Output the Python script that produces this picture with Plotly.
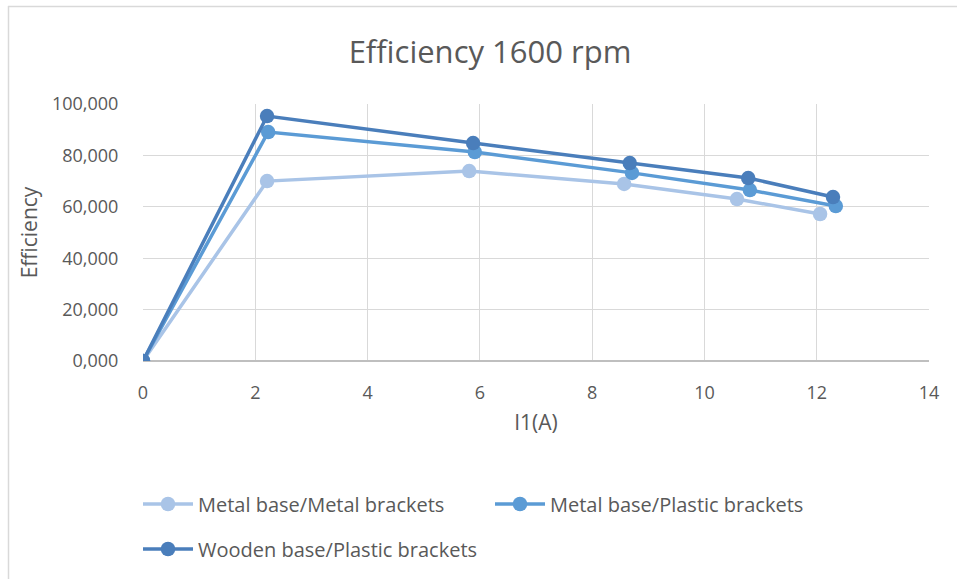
import plotly.graph_objects as go

# Current I1 (A) and efficiency values for each build configuration
metal_metal_x = [0, 2.21, 5.81, 8.57, 10.58, 12.06]
metal_metal_y = [0, 70.0, 73.9, 68.9, 63.0, 57.2]

metal_plastic_x = [0, 2.23, 5.91, 8.71, 10.81, 12.34]
metal_plastic_y = [0, 89.1, 81.3, 73.2, 66.5, 60.3]

wooden_plastic_x = [0, 2.21, 5.88, 8.67, 10.78, 12.29]
wooden_plastic_y = [0, 95.3, 84.8, 77.0, 71.2, 63.8]

series_names = ["Metal base/Metal brackets", "Metal base/Plastic brackets",
                "Wooden base/Plastic brackets"]
series_colors = ["#a9c4e7", "#5b9bd5", "#4a7ebb"]
series_legends = ["legend", "legend", "legend2"]

y_ticks = [0, 20, 40, 60, 80, 100]
y_tick_labels = ["0,000", "20,000", "40,000", "60,000", "80,000", "100,000"]
x_ticks = [0, 2, 4, 6, 8, 10, 12, 14]

FONT = "Open Sans, Liberation Sans, sans-serif"
GREY = "#595959"

fig = go.Figure()
for name, xs, ys, col, lg in zip(series_names,
                                 [metal_metal_x, metal_plastic_x, wooden_plastic_x],
                                 [metal_metal_y, metal_plastic_y, wooden_plastic_y],
                                 series_colors, series_legends):
    fig.add_trace(go.Scatter(x=xs, y=ys, name=name, mode="lines+markers",
                             line=dict(color=col, width=3.5),
                             marker=dict(color=col, size=14.5),
                             legend=lg))

W, H = 957, 579
L, R, T, B = 143, 28, 104, 218
pw, ph = W - L - R, H - T - B


def px_x(p):
    return (p - L) / pw


def px_y(p):
    return (H - B - p) / ph


# Outer chart frame (top and left edges)
fig.add_shape(type="line", xref="paper", yref="paper",
              x0=px_x(8), x1=px_x(W + 5), y0=px_y(6.5), y1=px_y(6.5),
              line=dict(color="#d9d9d9", width=1.5))
fig.add_shape(type="line", xref="paper", yref="paper",
              x0=px_x(8.5), x1=px_x(8.5), y0=px_y(6), y1=px_y(H + 5),
              line=dict(color="#d9d9d9", width=1.5))

legend_font = dict(size=20, color=GREY, family=FONT)

fig.update_layout(
    width=W, height=H,
    margin=dict(l=L, r=R, t=T, b=B, autoexpand=False),
    paper_bgcolor="white", plot_bgcolor="white",
    font=dict(family=FONT, color=GREY, size=18),
    title=dict(text="Efficiency 1600 rpm", x=490 / W, xanchor="center",
               y=1 - 52 / H, yanchor="middle",
               font=dict(size=31, color=GREY, family=FONT)),
    showlegend=True,
    legend=dict(orientation="h", x=px_x(138), xanchor="left",
                y=px_y(504), yanchor="middle",
                entrywidth=287, entrywidthmode="pixels",
                font=legend_font, itemwidth=50),
    legend2=dict(orientation="h", x=px_x(138), xanchor="left",
                 y=px_y(549), yanchor="middle",
                 font=legend_font, itemwidth=50),
    xaxis=dict(range=[0, 14], tickvals=x_ticks, showgrid=True,
               gridcolor="#d9d9d9", gridwidth=1, zeroline=False,
               showline=False, ticks="outside", ticklen=15,
               tickcolor="rgba(0,0,0,0)", tickfont=dict(size=18),
               title=dict(text="I1(A)", font=dict(size=21), standoff=12)),
    yaxis=dict(range=[0, 100], tickvals=y_ticks, ticktext=y_tick_labels,
               showgrid=True, gridcolor="#d9d9d9", gridwidth=1,
               zeroline=True, zerolinecolor="#bfbfbf", zerolinewidth=1.5,
               showline=False, ticks="outside", ticklen=20,
               tickcolor="rgba(0,0,0,0)", tickfont=dict(size=18),
               title=dict(text="Efficiency", font=dict(size=21), standoff=8)),
)

fig.write_html("out.html")
